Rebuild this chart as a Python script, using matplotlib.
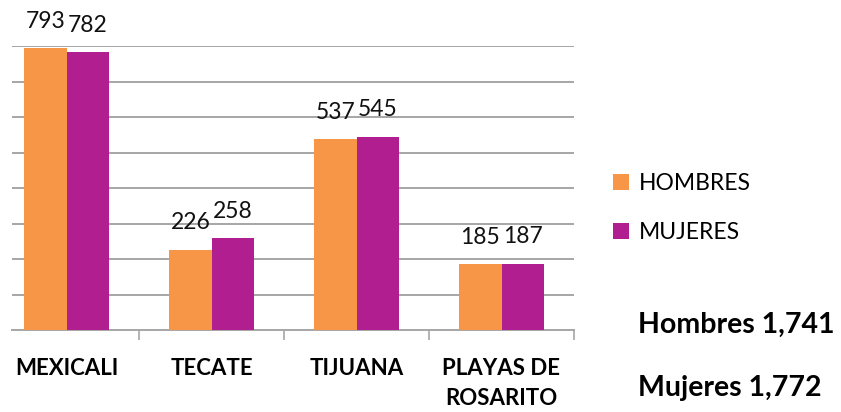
import matplotlib.pyplot as plt

CATEGORIES = ["MEXICALI", "TECATE", "TIJUANA", "PLAYAS DE\nROSARITO"]
HOMBRES = [793, 226, 537, 185]
MUJERES = [782, 258, 545, 187]
SERIES_NAMES = ["HOMBRES", "MUJERES"]
COLORS = ["#F79646", "#B01E8F"]

plt.rcParams['font.family'] = ['Lato', 'DejaVu Sans']


def main():
    fig = plt.figure(figsize=(8.41, 4.12), dpi=100)
    ax = fig.add_axes([12 / 841, 82 / 412, 562 / 841, 284 / 412])

    x = list(range(len(CATEGORIES)))
    w = 0.29
    bars_h = ax.bar([i - w / 2 for i in x], HOMBRES, w, color=COLORS[0], label=SERIES_NAMES[0], zorder=3)
    bars_m = ax.bar([i + w / 2 for i in x], MUJERES, w, color=COLORS[1], label=SERIES_NAMES[1], zorder=3)

    # value labels above each bar
    for bars in (bars_h, bars_m):
        for b in bars:
            ax.annotate(f"{int(b.get_height())}", (b.get_x() + b.get_width() / 2, b.get_height()),
                        xytext=(0, 19.5), textcoords='offset points', ha='center', va='center',
                        fontsize=16.5, color='#111111')

    ax.set_xlim(3.5 - 562 / 145, 3.5)
    ax.set_ylim(0, 800)
    ax.set_yticks(range(100, 801, 100))
    ax.grid(axis='y', color='#A6A6A6', linewidth=1.4, zorder=0)
    ax.tick_params(axis='y', left=False, labelleft=False)

    ax.set_xticks(x)
    ax.set_xticklabels(CATEGORIES, fontsize=16, fontweight='bold', linespacing=1.55)
    ax.tick_params(axis='x', length=0, pad=20)
    ax.set_xticks([i + 0.5 for i in x], minor=True)
    ax.tick_params(axis='x', which='minor', length=7, width=1.2, color='#A6A6A6')

    for s in ('top', 'right', 'left'):
        ax.spines[s].set_visible(False)
    ax.spines['bottom'].set_color('#A6A6A6')
    ax.spines['bottom'].set_linewidth(1.4)

    ax.legend(loc='center left', bbox_to_anchor=(1.053, 0.43), frameon=False, fontsize=16.5,
              handlelength=0.7, handleheight=0.7, handletextpad=0.45, labelspacing=1.2,
              borderaxespad=0)

    fig.text(638 / 841, 1 - 325 / 412, f"Hombres {sum(HOMBRES):,}", fontsize=20.5, fontweight='bold', va='center')
    fig.text(638 / 841, 1 - 388 / 412, f"Mujeres {sum(MUJERES):,}", fontsize=20.5, fontweight='bold', va='center')

    fig.savefig("out.png", dpi=100)


if __name__ == "__main__":
    main()
